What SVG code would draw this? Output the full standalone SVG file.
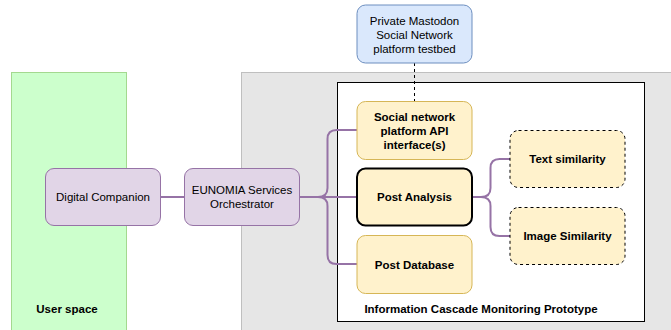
<svg xmlns="http://www.w3.org/2000/svg" width="671" height="330" viewBox="0 0 671 330">
<style>
text{font-family:"Liberation Sans",Arial,sans-serif;font-size:11.5px;fill:#000;text-anchor:middle}
.b{font-weight:bold}
.purple{fill:#e1d5e7;stroke:#9673a6;stroke-width:1}
.yellow{fill:#fff2cc;stroke:#d6b656;stroke-width:1}
.dash{fill:#fff2cc;stroke:#000;stroke-width:1;stroke-dasharray:3 3}
.conn{fill:none;stroke:#9673a6;stroke-width:2}
</style>
<rect width="671" height="330" fill="#fff"/>
<g id="user-space">
<rect x="11.5" y="72.5" width="115" height="270" fill="#ccffcc" stroke="#a3d98f"/>
<text class="b" x="67" y="313">User space</text>
</g>
<g id="platform-area">
<rect x="241.5" y="72.5" width="440" height="270" fill="#e6e6e6" stroke="#bfbfbf"/>
</g>
<g id="prototype">
<rect x="337.5" y="82.5" width="307" height="239" fill="#fff" stroke="#000"/>
<text class="b" x="481" y="313">Information Cascade Monitoring Prototype</text>
</g>
<g id="connectors">
<path d="M414.5,63 V101.5" fill="none" stroke="#000" stroke-dasharray="3 3"/>
<path class="conn" d="M160.5,197 H184.5"/>
<path class="conn" d="M299,197 H357"/>
<path class="conn" d="M318,197 Q327.5,197 327.5,188 V139 Q327.5,130 336.5,130 H357"/>
<path class="conn" d="M318,197 Q327.5,197 327.5,206 V255 Q327.5,264 336.5,264 H357"/>
<path class="conn" d="M472,197 H481"/>
<path class="conn" d="M481,197 Q490.5,197 490.5,188 V168 Q490.5,159 499.5,159 H510"/>
<path class="conn" d="M481,197 Q490.5,197 490.5,206 V227 Q490.5,236 499.5,236 H510"/>
</g>
<g id="mastodon">
<rect x="357" y="5" width="115" height="58" rx="8.5" fill="#dae8fc" stroke="#6c8ebf"/>
<text x="414.5" y="25">Private Mastodon</text>
<text x="414.5" y="39">Social Network</text>
<text x="414.5" y="53">platform testbed</text>
</g>
<g id="digital-companion">
<rect class="purple" x="45.5" y="168.5" width="115" height="57" rx="8.5"/>
<text x="103" y="201">Digital Companion</text>
</g>
<g id="orchestrator">
<rect class="purple" x="184.5" y="168.5" width="115" height="57" rx="8.5"/>
<text x="242" y="194">EUNOMIA Services</text>
<text x="242" y="208">Orchestrator</text>
</g>
<g id="social-api">
<rect class="yellow" x="357" y="101.5" width="115" height="58" rx="8.5"/>
<text class="b" x="414.5" y="120.5">Social network</text>
<text class="b" x="414.5" y="134.5">platform API</text>
<text class="b" x="414.5" y="148.5">interface(s)</text>
</g>
<g id="post-analysis">
<rect x="357" y="168.5" width="115" height="57" rx="8.5" fill="#fff2cc" stroke="#000" stroke-width="2"/>
<text class="b" x="414.5" y="201">Post Analysis</text>
</g>
<g id="post-database">
<rect class="yellow" x="357" y="235.5" width="115" height="58" rx="8.5"/>
<text class="b" x="414.5" y="268.5">Post Database</text>
</g>
<g id="text-similarity">
<rect class="dash" x="510" y="130.5" width="115" height="57" rx="8.5"/>
<text class="b" x="567.5" y="163">Text similarity</text>
</g>
<g id="image-similarity">
<rect class="dash" x="510" y="207.5" width="115" height="57" rx="8.5"/>
<text class="b" x="567.5" y="240">Image Similarity</text>
</g>
</svg>
